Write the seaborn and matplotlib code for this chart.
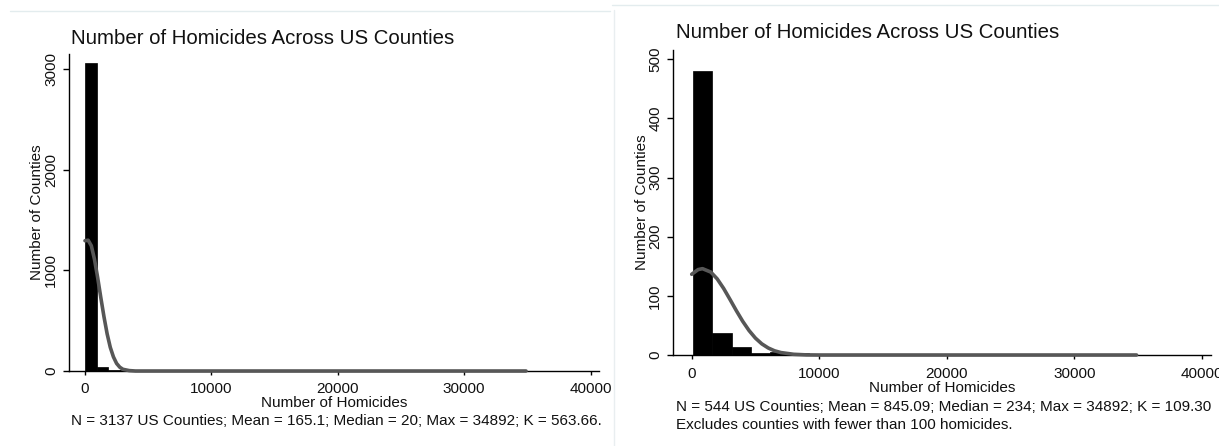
import matplotlib
matplotlib.use("Agg")
import matplotlib.pyplot as plt
import numpy as np
import pandas as pd
import seaborn as sns
from matplotlib.lines import Line2D

sns.set_style("ticks")
plt.rcParams["font.family"] = ["Liberation Sans", "DejaVu Sans"]
plt.rcParams["text.color"] = "#111111"
plt.rcParams["axes.labelcolor"] = "#111111"

TITLE = "Number of Homicides Across US Counties"
X_LABEL = "Number of Homicides"
Y_LABEL = "Number of Counties"
X_TICKS = [0, 10000, 20000, 30000, 40000]

# all counties: histogram bins from min to max, counts
ALL_MIN, ALL_MAX, ALL_NBINS = 0, 34892, 38
ALL_COUNTS = [3065, 43, 14, 6, 3, 2, 1, 1, 0, 0, 0, 1, 0, 0, 0, 0, 0, 0, 0,
              0, 0, 0, 0, 0, 0, 0, 0, 0, 0, 0, 0, 0, 0, 0, 0, 0, 0, 1]
ALL_CURVE_X = [0, 250, 500, 750, 1000, 1250, 1500, 1750, 2000, 2250, 2500,
               2750, 3000, 3500, 4000, 34892]
ALL_CURVE_Y = [1295, 1300, 1245, 1110, 930, 730, 540, 370, 235, 140, 75,
               38, 17, 4, 0, 0]
ALL_YTICKS = [0, 1000, 2000, 3000]
ALL_NOTE = "N = 3137 US Counties; Mean = 165.1; Median = 20; Max = 34892; K = 563.66."

# counties with at least 100 homicides
BIG_MIN, BIG_MAX, BIG_NBINS = 100, 34892, 23
BIG_COUNTS = [480, 37, 13, 3, 5, 3, 1, 1, 0, 0, 0, 0, 0, 0, 0, 0, 0, 0, 0,
              0, 0, 0, 1]
BIG_CURVE_X = [0, 500, 845, 1500, 2000, 2500, 3000, 3500, 4000, 4500, 5000,
               5500, 6000, 6500, 7000, 8000, 9000, 10000, 34892]
BIG_CURVE_Y = [136.5, 144.4, 146, 140.2, 128.7, 112.7, 94.1, 75.0, 57.0,
               41.3, 28.5, 18.8, 11.9, 7.1, 4.1, 1.2, 0.2, 0, 0]
BIG_YTICKS = [0, 100, 200, 300, 400, 500]
BIG_NOTE = ("N = 544 US Counties; Mean = 845.09; Median = 234; Max = 34892; K = 109.30\n"
            "Excludes counties with fewer than 100 homicides.")

W, H = 1219, 446


def _px(x, y):
    return x / W, 1 - y / H


def _draw_panel(ax, counts, lo, hi, nbins, curve_x, curve_y, yticks, xlim, ylim,
                xpad, ylabel_x, xlabel_y):
    edges = np.linspace(lo, hi, nbins + 1)
    bars = pd.DataFrame({"homicides": (edges[:-1] + edges[1:]) / 2, "counties": counts})
    sns.histplot(data=bars, x="homicides", weights="counties", bins=edges.tolist(),
                 color="black", edgecolor="black", linewidth=0.5, alpha=1, ax=ax)
    curve = pd.DataFrame({"homicides": curve_x, "density": curve_y})
    sns.lineplot(data=curve, x="homicides", y="density", color="#575757", linewidth=2.6,
                 ax=ax, clip_on=False, zorder=3)
    ax.set_xlim(*xlim)
    ax.set_ylim(*ylim)
    ax.set_xticks(X_TICKS)
    ax.set_yticks(yticks)
    sns.despine(ax=ax)
    for side in ("left", "bottom"):
        ax.spines[side].set_linewidth(1.0)
        ax.spines[side].set_color("black")
    ax.tick_params(axis="x", length=3.2, width=1, pad=xpad, labelsize=11,
                   color="black", labelcolor="#111111")
    ax.tick_params(axis="y", length=4.4, width=1, pad=3.5, labelsize=11,
                   color="black", labelcolor="#111111")
    for lab in ax.get_yticklabels():
        lab.set_rotation(90)
        lab.set_va("center")
    ax.set_xlabel(X_LABEL, fontsize=11)
    ax.set_ylabel(Y_LABEL, fontsize=11)
    ax.yaxis.set_label_coords(ylabel_x, 0.5)
    ax.xaxis.set_label_coords(0.5, xlabel_y)
    ax.set_facecolor("white")


fig = plt.figure(figsize=(W / 100, H / 100), dpi=100)

ax1 = fig.add_axes([69 / W, (H - 371) / H, 530 / W, 317 / H])
_draw_panel(ax1, ALL_COUNTS, ALL_MIN, ALL_MAX, ALL_NBINS, ALL_CURVE_X, ALL_CURVE_Y,
            ALL_YTICKS, (-1266, 40665), (0, 3151), 4.5, -0.047, -0.079)

ax2 = fig.add_axes([673.3 / W, (H - 355) / H, 537.7 / W, 305 / H])
_draw_panel(ax2, BIG_COUNTS, BIG_MIN, BIG_MAX, BIG_NBINS, BIG_CURVE_X, BIG_CURVE_Y,
            BIG_YTICKS, (-1443, 40729), (0, 515.7), 5.5, -0.046, -0.086)

fig.text(*_px(71, 38), TITLE, fontsize=14.7, va="center", ha="left")
fig.text(*_px(676, 33), TITLE, fontsize=14.7, va="center", ha="left")
fig.text(*_px(71, 421), ALL_NOTE, fontsize=11, va="center", ha="left")
fig.text(*_px(676, 416), BIG_NOTE, fontsize=11, va="center", ha="left",
         linespacing=1.3)

# faint screenshot borders
fig.add_artist(Line2D([10 / W, 610 / W], [1 - 11 / H, 1 - 11 / H], color="#e3ecee", lw=1))
fig.add_artist(Line2D([612 / W, 1], [1 - 5 / H, 1 - 5 / H], color="#e3ecee", lw=1))
fig.add_artist(Line2D([614 / W, 614 / W], [1 - 10 / H, 0], color="#e9eef0", lw=1))

fig.savefig("out.png", dpi=100, facecolor="white")
